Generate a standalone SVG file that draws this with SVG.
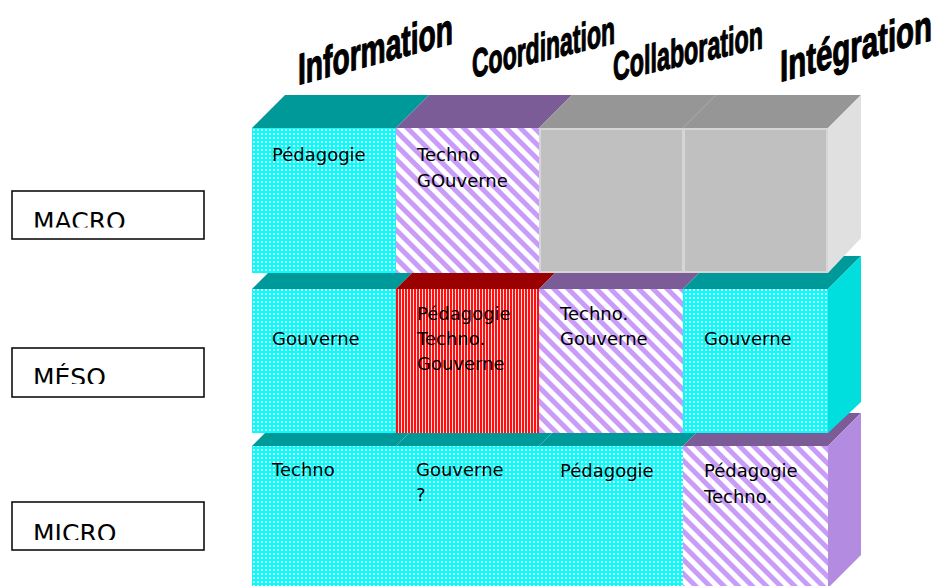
<svg xmlns="http://www.w3.org/2000/svg" width="938" height="586" viewBox="0 0 938 586">
<defs>
  <pattern id="dots" width="4" height="4" patternUnits="userSpaceOnUse">
    <rect width="4" height="4" fill="#00ffff"/>
    <rect x="1" y="1" width="2" height="2" fill="#f0ffff"/>
  </pattern>
  <pattern id="diag" width="10" height="10" patternUnits="userSpaceOnUse" patternTransform="rotate(45)">
    <rect width="10" height="10" fill="#ffffff"/>
    <rect width="10" height="5" fill="#c89cf8"/>
  </pattern>
  <pattern id="vred" width="3" height="3" patternUnits="userSpaceOnUse">
    <rect width="3" height="3" fill="#ff1010"/>
    <rect x="2" width="1" height="3" fill="#ffe0e0"/>
  </pattern>
  <clipPath id="clipMacro"><rect x="0" y="0" width="220" height="227.5"/></clipPath>
  <clipPath id="clipMeso"><rect x="0" y="300" width="220" height="84"/></clipPath>
  <clipPath id="clipMicro"><rect x="0" y="480" width="220" height="60"/></clipPath>
</defs>
<style>
  .cell { font-family: "DejaVu Sans", "Liberation Sans", sans-serif; font-size: 18px; fill: #000; }
  .lvl { font-family: "DejaVu Sans", "Liberation Sans", sans-serif; font-size: 25px; fill: #000; }
  .lvlbox { fill: #ffffff; stroke: #000; stroke-width: 1.5; }
  .hdr { font-family: "Liberation Sans", Arial, sans-serif; font-weight: bold; fill: #000; stroke: #000; stroke-width: 1.2; stroke-linejoin: round; }
  .teal { fill: #009999; }
  .purple { fill: #7b5c96; }
  .dred { fill: #990000; }
  .gtop { fill: #969696; }
  .gray { fill: #c0c0c0; stroke: #d6d6d6; stroke-width: 2; }
</style>
<rect width="938" height="586" fill="#ffffff"/>

<!-- Column headers -->
<g id="hdr-information"><text class="hdr" transform="translate(298,85) skewY(-15)" font-size="44" textLength="155" lengthAdjust="spacingAndGlyphs">Information</text></g>
<g id="hdr-coordination"><text class="hdr" transform="translate(472,78) skewY(-13.7)" font-size="40" textLength="143" lengthAdjust="spacingAndGlyphs">Coordination</text></g>
<g id="hdr-collaboration"><text class="hdr" transform="translate(613,81) skewY(-12.4)" font-size="40" textLength="150" lengthAdjust="spacingAndGlyphs">Collaboration</text></g>
<g id="hdr-integration"><text class="hdr" transform="translate(780,82) skewY(-15.4)" font-size="44" textLength="152" lengthAdjust="spacingAndGlyphs">Intégration</text></g>

<!-- Level labels -->
<g id="lvl-macro">
  <rect class="lvlbox" x="12" y="191" width="192" height="48"/>
  <text class="lvl" x="33" y="229.5" clip-path="url(#clipMacro)">MACRO</text>
</g>
<g id="lvl-meso">
  <rect class="lvlbox" x="12" y="348" width="192" height="49"/>
  <text class="lvl" x="33" y="386" clip-path="url(#clipMeso)">MÉSO</text>
</g>
<g id="lvl-micro">
  <rect class="lvlbox" x="12" y="502" width="192" height="48"/>
  <text class="lvl" x="33" y="541.5" clip-path="url(#clipMicro)">MICRO</text>
</g>

<!-- MICRO row (back) -->
<g id="row-micro">
  <polygon class="teal" points="252,446 285,413 429,413 396,446"/>
  <polygon class="teal" points="396,446 429,413 572,413 539,446"/>
  <polygon class="teal" points="539,446 572,413 716,413 683,446"/>
  <polygon class="purple" points="683,446 716,413 861,413 828,446"/>
  <polygon fill="#b38be0" points="828,446 861,413 861,555 828,588"/>
  <g id="micro-information"><rect x="252" y="446" width="144" height="150" fill="url(#dots)"/>
    <text class="cell" x="272" y="476">Techno</text></g>
  <g id="micro-coordination"><rect x="396" y="446" width="143" height="150" fill="url(#dots)"/>
    <text class="cell" x="416" y="476">Gouverne</text><text class="cell" x="416" y="501">?</text></g>
  <g id="micro-collaboration"><rect x="539" y="446" width="144" height="150" fill="url(#dots)"/>
    <text class="cell" x="560" y="477">Pédagogie</text></g>
  <g id="micro-integration"><rect x="683" y="446" width="145" height="150" fill="url(#diag)"/>
    <text class="cell" x="704" y="477">Pédagogie</text><text class="cell" x="704" y="503">Techno.</text></g>
</g>

<!-- MESO row -->
<g id="row-meso">
  <polygon class="teal" points="252,289 285,256 429,256 396,289"/>
  <polygon class="dred" points="396,289 429,256 572,256 539,289"/>
  <polygon class="purple" points="539,289 572,256 716,256 683,289"/>
  <polygon class="teal" points="683,289 716,256 861,256 828,289"/>
  <polygon fill="#00dede" points="828,289 861,256 861,402 828,433"/>
  <g id="meso-information"><rect x="252" y="289" width="144" height="144" fill="url(#dots)"/>
    <text class="cell" x="272" y="345">Gouverne</text></g>
  <g id="meso-coordination"><rect x="396" y="289" width="143" height="144" fill="url(#vred)"/>
    <text class="cell" x="417" y="320">Pédagogie</text><text class="cell" x="417" y="345">Techno.</text><text class="cell" x="417" y="370">Gouverne</text></g>
  <g id="meso-collaboration"><rect x="539" y="289" width="144" height="144" fill="url(#diag)"/>
    <text class="cell" x="560" y="320">Techno.</text><text class="cell" x="560" y="345">Gouverne</text></g>
  <g id="meso-integration"><rect x="683" y="289" width="145" height="144" fill="url(#dots)"/>
    <text class="cell" x="704" y="345">Gouverne</text></g>
</g>

<!-- MACRO row (front) -->
<g id="row-macro">
  <polygon class="teal" points="252,128 285,95 429,95 396,128"/>
  <polygon class="purple" points="396,128 429,95 572,95 539,128"/>
  <polygon class="gtop" points="539,128 572,95 716,95 683,128"/>
  <polygon class="gtop" points="683,128 716,95 861,95 828,128"/>
  <line x1="683" y1="128" x2="716" y2="95" stroke="#a8a8a8" stroke-width="1"/>
  <polygon fill="#e0e0e0" points="828,128 861,95 861,238 828,273"/>
  <g id="macro-information"><rect x="252" y="128" width="144" height="145" fill="url(#dots)"/>
    <text class="cell" x="272" y="161">Pédagogie</text></g>
  <g id="macro-coordination"><rect x="396" y="128" width="143" height="145" fill="url(#diag)"/>
    <text class="cell" x="417" y="161">Techno</text><text class="cell" x="417" y="187">GOuverne</text></g>
  <g id="macro-collaboration"><rect class="gray" x="540" y="129" width="143" height="143"/></g>
  <g id="macro-integration"><rect class="gray" x="684" y="129" width="143" height="143"/></g>
</g>
</svg>
